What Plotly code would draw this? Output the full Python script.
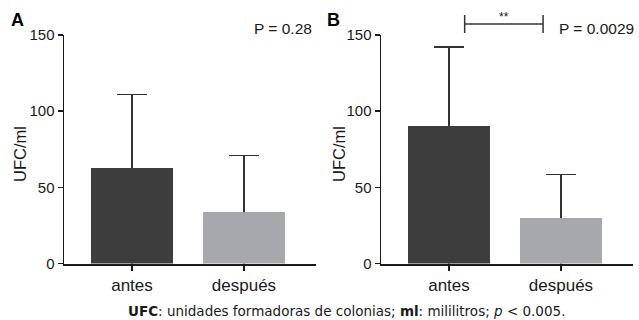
import plotly.graph_objects as go

categories = ["antes", "después"]
means_a = [63, 33.5]
err_a = [48, 37.5]
means_b = [90, 30]
err_b = [52, 28.5]
bar_colors = ["#3d3d3d", "#a7a8ab"]
y_ticks = [0, 50, 100, 150]
p_a = "P = 0.28"
p_b = "P = 0.0029"
caption = "<b>UFC</b>: unidades formadoras de colonias; <b>ml</b>: mililitros; <i>p</i> < 0.005."

W, H = 639, 320
FONT = "Liberation Sans, Arial, sans-serif"
TXT = "#1a1a1a"

fig = go.Figure()
for means, errs, xa, ya in [(means_a, err_a, "x", "y"), (means_b, err_b, "x2", "y2")]:
    # carrier of the upper error bars; its lower half runs below the axis (clipped)
    # and is hidden inside the bar by the opaque bar drawn on top
    fig.add_trace(go.Bar(
        x=categories, y=means, xaxis=xa, yaxis=ya,
        marker=dict(color="rgba(0,0,0,0)", line=dict(width=0)),
        width=0.74, cliponaxis=True,
        error_y=dict(type="data", symmetric=False, array=errs,
                     arrayminus=[m + 10 for m in means],
                     color="#333333", thickness=1.5, width=15),
        showlegend=False, hoverinfo="skip",
    ))
    fig.add_trace(go.Bar(
        x=categories, y=means, xaxis=xa, yaxis=ya,
        marker=dict(color=bar_colors, line=dict(width=0)),
        width=0.74,
        showlegend=False, hoverinfo="skip",
    ))

ydom = [(H - 263.5) / H, (H - 35) / H]
xdom1 = [64 / W, 316 / W]
xdom2 = [381 / W, 633 / W]
xrange_ = [-0.607, 1.643]

xcommon = dict(range=xrange_, showline=True, linewidth=2.5, linecolor="#1a1a1a",
               ticks="outside", ticklen=5, tickwidth=1.5, tickcolor="#1a1a1a",
               showgrid=False, zeroline=False, automargin=False,
               tickfont=dict(family=FONT, size=17, color=TXT), fixedrange=True)
ycommon = dict(range=[0, 150], tickvals=y_ticks, showline=True, linewidth=1.5,
               linecolor="#1a1a1a", ticks="outside", ticklen=5, tickwidth=1.5,
               tickcolor="#1a1a1a", showgrid=False, zeroline=False, domain=ydom,
               automargin=False,
               tickfont=dict(family=FONT, size=15, color=TXT), fixedrange=True)

fig.update_layout(
    template="none",
    width=W, height=H, margin=dict(l=0, r=0, t=0, b=0, pad=0, autoexpand=False),
    paper_bgcolor="white", plot_bgcolor="white",
    barmode="overlay", bargap=0,
    xaxis=dict(domain=xdom1, anchor="y", **xcommon),
    yaxis=dict(anchor="x", **ycommon),
    xaxis2=dict(domain=xdom2, anchor="y2", **xcommon),
    yaxis2=dict(anchor="x2", **ycommon),
    font=dict(family=FONT, color=TXT),
)

ann = []
# panel letters
ann.append(dict(text="<b>A</b>", x=17 / W, y=(H - 20) / H, xref="paper", yref="paper",
                xanchor="center", yanchor="middle",
                showarrow=False, font=dict(size=18, family=FONT, color="#000")))
ann.append(dict(text="<b>B</b>", x=333 / W, y=(H - 20) / H, xref="paper", yref="paper",
                xanchor="center", yanchor="middle",
                showarrow=False, font=dict(size=18, family=FONT, color="#000")))
# y titles
for xp in (20, 339):
    ann.append(dict(text="UFC/ml", x=xp / W, y=(H - 154) / H, xref="paper", yref="paper",
                    xanchor="center", yanchor="middle",
                    showarrow=False, textangle=-90,
                    font=dict(size=16.5, family=FONT, color=TXT)))
# p-values
ann.append(dict(text=p_a, x=1, y=(H - 29) / H, xref="x domain", yref="paper",
                xanchor="right", yanchor="middle", xshift=-2, showarrow=False,
                font=dict(size=15.5, family=FONT, color=TXT)))
ann.append(dict(text=p_b, x=1, y=(H - 29) / H, xref="x2 domain", yref="paper",
                xanchor="right", yanchor="middle", xshift=3, showarrow=False,
                font=dict(size=15.5, family=FONT, color=TXT)))
# significance stars
ann.append(dict(text="**", x=0.49, y=(H - 17) / H, xref="x2", yref="paper",
                xanchor="center", yanchor="middle",
                showarrow=False, font=dict(size=12, family=FONT, color=TXT)))
# caption
ann.append(dict(text=caption, x=346 / W, y=(H - 311) / H, xref="paper", yref="paper",
                xanchor="center", yanchor="middle",
                showarrow=False, font=dict(size=13.5, family="DejaVu Sans, sans-serif", color=TXT)))
fig.update_layout(annotations=ann)

# significance bracket
lc = dict(color="#333333", width=1.5)
yb = (H - 24) / H
fig.add_shape(type="line", xref="x2", yref="paper", x0=0.14, x1=0.84, y0=yb, y1=yb, line=lc)
for xv in (0.14, 0.84):
    fig.add_shape(type="line", xref="x2", yref="paper", x0=xv, x1=xv,
                  y0=(H - 15) / H, y1=(H - 33) / H, line=lc)

fig.write_html("out.html", config={"displayModeBar": False, "staticPlot": True},
               post_script="document.body.style.margin='0';document.body.style.overflow='hidden';")
